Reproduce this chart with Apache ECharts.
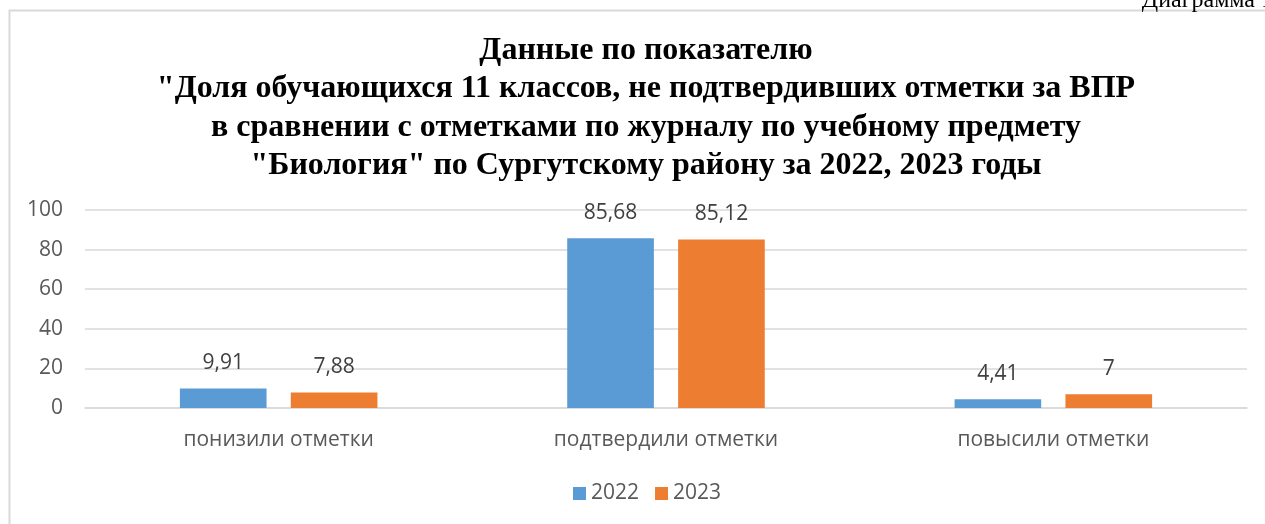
<!DOCTYPE html>
<html><head><meta charset="utf-8">
<script src="https://cdn.jsdelivr.net/npm/echarts@6/dist/echarts.min.js"></script>
<style>html,body{margin:0;padding:0;background:#fff}#c{width:1265px;height:524px}</style>
</head><body><div id="c"></div>
<script>
var categories = ['понизили отметки', 'подтвердили отметки', 'повысили отметки'];
var series2022 = [9.91, 85.68, 4.41];
var series2023 = [7.88, 85.12, 7];
var seriesNames = ['2022', '2023'];
var titleLines = ['Данные по показателю', '"Доля обучающихся 11 классов, не подтвердивших отметки за ВПР', 'в сравнении с отметками по журналу по учебному предмету', '"Биология" по Сургутскому району за 2022, 2023 годы'];
var cornerText = 'Диаграмма 1';

var chart = echarts.init(document.getElementById('c'));
var fmt = function (p) { return String(p.value).replace('.', ','); };
var lbl = { show: true, position: 'top', distance: 15, color: '#404040', fontSize: 21, fontFamily: 'Open Sans', formatter: fmt };
chart.setOption({
  animation: false,
  graphic: [
    { type: 'rect', shape: { x: 9.5, y: 10.5, width: 1300, height: 600 }, style: { fill: 'none', stroke: '#d9d9d9', lineWidth: 2 } },
    { type: 'text', right: -8, top: -11, style: { text: cornerText, font: '24px "Liberation Serif"', fill: '#000' } }
  ],
  title: {
    text: titleLines.join('\n'),
    left: 641, textAlign: 'center', top: 26,
    textStyle: { fontFamily: 'Liberation Serif', fontWeight: 'bold', fontSize: 32, lineHeight: 38.5, color: '#000' }
  },
  legend: {
    bottom: 15, left: 568, itemWidth: 13, itemHeight: 13, itemGap: 16,
    icon: 'rect',
    textStyle: { color: '#595959', fontSize: 21, fontFamily: 'Open Sans', padding: [0, 0, 0, 0] },
    data: seriesNames
  },
  grid: { left: 85, right: 18, top: 210, bottom: 116 },
  xAxis: {
    type: 'category', data: categories,
    axisLine: { lineStyle: { color: '#d9d9d9', width: 1.5 } },
    axisTick: { show: false },
    axisLabel: { color: '#595959', fontSize: 21, fontFamily: 'Open Sans', margin: 22 }
  },
  yAxis: {
    type: 'value', min: 0, max: 100, interval: 20,
    axisLine: { show: false }, axisTick: { show: false },
    splitLine: { lineStyle: { color: '#d9d9d9', width: 1.5 } },
    axisLabel: { color: '#595959', fontSize: 21, fontFamily: 'Open Sans', margin: 22 }
  },
  series: [
    { name: seriesNames[0], type: 'bar', data: series2022, barGap: '28%', barCategoryGap: '49%', itemStyle: { color: '#5b9bd5' }, label: lbl },
    { name: seriesNames[1], type: 'bar', data: series2023, itemStyle: { color: '#ed7d31' }, label: lbl }
  ]
});
</script></body></html>
